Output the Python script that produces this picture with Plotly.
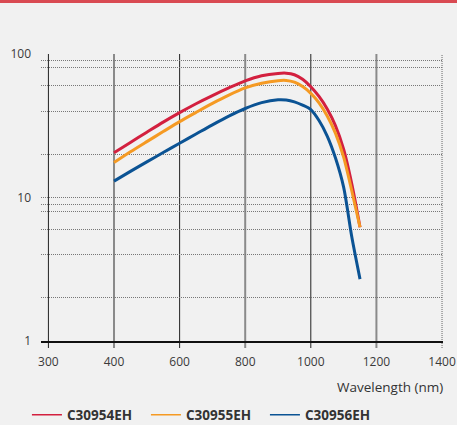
import plotly.graph_objects as go

# ---- data ----
wavelength = [400, 450, 500, 550, 600, 650, 700, 750, 800, 850, 900, 925, 950, 975,
              1000, 1025, 1050, 1075, 1100, 1125, 1150]
c30954eh = [20.5, 24.2, 28.5, 33.5, 39, 45.0, 51.3, 58.0, 65, 70.5, 73.2, 73.5, 71.7, 66.7,
            59.2, 50.6, 41.4, 31.7, 21.7, 12.4, 6.2]
c30955eh = [17.5, 20.8, 24.5, 28.8, 33.8, 39.2, 45.3, 51.7, 58, 62.5, 65.2, 65.4, 63.6, 59.3,
            53.2, 45.7, 37.0, 28.1, 19.1, 11.1, 6.2]
c30956eh = [13, 15.2, 17.7, 20.6, 23.9, 27.7, 32.1, 36.9, 41.7, 45.8, 48.0, 47.8, 46.4, 44.0,
            41.0, 34.4, 26.8, 18.9, 11.8, 5.3, 2.7]

series_names = ["C30954EH", "C30955EH", "C30956EH"]
series_colors = ["#d3203f", "#f59a23", "#0b5394"]

# x tick positions (linear from 400 upward; the first label "300" sits one grid step left)
x_tickvals = [200, 400, 600, 800, 1000, 1200, 1400]
x_ticktext = ["300", "400", "600", "800", "1000", "1200", "1400"]
x_grid_colors = ["#222222", "#8a8a8a", "#222222", "#8a8a8a", "#222222", "#8a8a8a", "#666666"]
x_grid_widths = [1, 2, 1, 2, 1, 2, 1]
x_grid_dash = ["solid"] * 6 + ["1px,1px"]

y_major = [1, 10, 100]
y_minor = [2, 4, 6, 8, 9, 20, 40, 60, 80, 90]

fig = go.Figure()

for vals, name, col in zip([c30954eh, c30955eh, c30956eh], series_names, series_colors):
    fig.add_trace(go.Scatter(x=wavelength, y=vals, mode="lines", name=name,
                             line=dict(color=col, width=3, shape="spline", smoothing=0.8),
                             showlegend=False, hoverinfo="x+y+name"))
for name, col in zip(series_names, series_colors):
    fig.add_trace(go.Scatter(x=[None], y=[None], mode="lines", name=name,
                             line=dict(color=col, width=1.5), showlegend=True))

PH = 287.0  # plot height in px
# vertical grid lines with ticks extending below the axis
shapes = []
for xv, c, w, d in zip(x_tickvals, x_grid_colors, x_grid_widths, x_grid_dash):
    shapes.append(dict(type="line", xref="x", yref="paper", x0=xv, x1=xv,
                       y0=-7 / PH, y1=1, line=dict(color=c, width=w, dash=d), layer="below"))
# top red band
shapes.append(dict(type="rect", xref="paper", yref="paper", x0=-0.2, x1=1.2,
                   y0=1 + 51 / PH, y1=1 + 58 / PH, fillcolor="#d94a52",
                   line=dict(width=0), layer="above"))

fig.update_layout(
    width=457, height=425,
    margin=dict(l=41, r=14, t=54, b=84, autoexpand=False),
    paper_bgcolor="#f1f1f1", plot_bgcolor="#f1f1f1",
    font=dict(family="Open Sans", size=12, color="#3a3a3a"),
    shapes=shapes,
    xaxis=dict(range=[177.4, 1403], tickvals=x_tickvals, ticktext=x_ticktext,
               showgrid=False, zeroline=False, showline=True, linecolor="#111111",
               linewidth=1.5, ticks="", ticklabelstandoff=9,
               tickfont=dict(size=12, color="#3a3a3a")),
    yaxis=dict(type="log", range=[0, 2], tickvals=y_major, ticktext=["1", "10", "100"],
               showgrid=True, gridcolor="#777777", griddash="1px,1px", gridwidth=1,
               minor=dict(tickvals=y_minor, showgrid=True, gridcolor="#777777",
                          griddash="1px,1px", gridwidth=1, ticks=""),
               zeroline=False, showline=False, ticks="", ticklabelstandoff=9,
               tickfont=dict(size=12, color="#3a3a3a")),
    legend=dict(orientation="h", x=-0.035, xanchor="left", y=-74 / PH, yanchor="middle",
                bgcolor="rgba(0,0,0,0)",
                font=dict(size=13.5, color="#333333", family="Open Sans", weight="bold"),
                itemwidth=30, entrywidth=74, entrywidthmode="pixels", tracegroupgap=0),
    annotations=[dict(text="Wavelength (nm)", xref="paper", yref="paper", x=1.005, y=-46 / PH,
                      xanchor="right", yanchor="middle", showarrow=False,
                      font=dict(size=13.5, color="#333333"))],
)

fig.write_html("out.html")
